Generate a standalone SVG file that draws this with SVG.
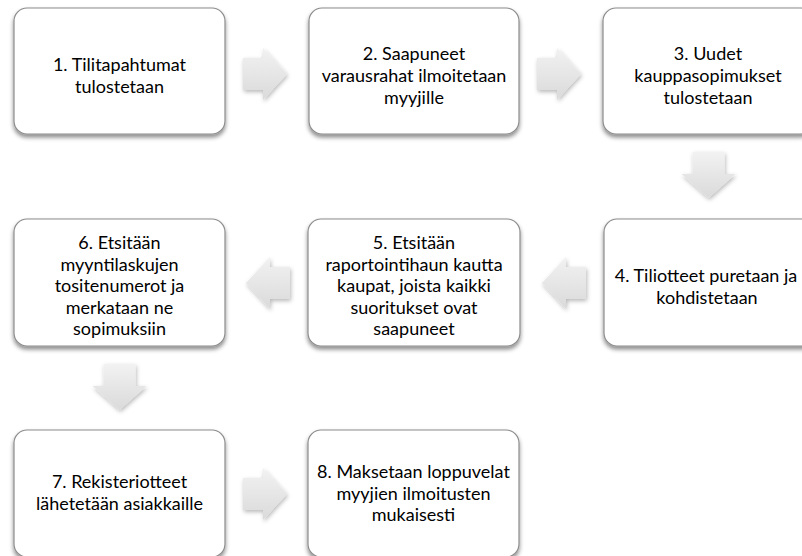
<svg xmlns="http://www.w3.org/2000/svg" width="802" height="556" viewBox="0 0 802 556">
<defs>
<filter id="sh" x="-10%" y="-10%" width="120%" height="130%">
<feDropShadow dx="0" dy="3" stdDeviation="2" flood-color="#000" flood-opacity="0.45"/>
</filter>
<filter id="ash" x="-20%" y="-20%" width="150%" height="150%">
<feDropShadow dx="1" dy="2" stdDeviation="2" flood-color="#000" flood-opacity="0.28"/>
</filter>
<linearGradient id="ag" x1="0" y1="0" x2="0" y2="1">
<stop offset="0" stop-color="#f2f2f2"/>
<stop offset="1" stop-color="#dadada"/>
</linearGradient>
</defs>
<style>
.box{fill:#fff;stroke:#8c8c8c;stroke-width:1.2;filter:url(#sh)}
.arr{fill:url(#ag);filter:url(#ash)}
text{font-family:Lato,"Liberation Sans",Arial,sans-serif;font-size:18px;fill:#000;text-anchor:middle}
</style>
<g id="connectors">
<path class="arr" d="M243,58 H263 V48 L287,74 L263,100 V90 H243 Z"/>
<path class="arr" d="M537,58 H557 V48 L581,74 L557,100 V90 H537 Z"/>
<path class="arr" d="M692.5,152 H724.5 V174 H735.5 L708.5,198 L681.5,174 H692.5 Z"/>
<path class="arr" d="M586,267 H566 V257 L542,283 L566,309 V299 H586 Z"/>
<path class="arr" d="M290,267 H270 V257 L246,283 L270,309 V299 H290 Z"/>
<path class="arr" d="M103.5,364 H135.5 V386 H146.5 L119.5,410 L92.5,386 H103.5 Z"/>
<path class="arr" d="M243,478 H263 V468 L287,494 L263,520 V510 H243 Z"/>
</g>
<g id="node1">
<rect class="box" x="14" y="8" width="211" height="126" rx="13"/>
<text x="119.5" y="70.7">1. Tilitapahtumat</text>
<text x="119.5" y="92.7">tulostetaan</text>
</g>
<g id="node2">
<rect class="box" x="309" y="8" width="210" height="126" rx="13"/>
<text x="414" y="59.7">2. Saapuneet</text>
<text x="414" y="81.7">varausrahat ilmoitetaan</text>
<text x="414" y="103.7">myyjille</text>
</g>
<g id="node3">
<rect class="box" x="603" y="8" width="211" height="126" rx="13"/>
<text x="708" y="59.7">3. Uudet</text>
<text x="708" y="81.7">kauppasopimukset</text>
<text x="708" y="103.7">tulostetaan</text>
</g>
<g id="node4">
<rect class="box" x="604" y="219" width="211" height="127" rx="13"/>
<text x="706" y="281.5">4. Tiliotteet puretaan ja</text>
<text x="707" y="303.5">kohdistetaan</text>
</g>
<g id="node5">
<rect class="box" x="308" y="219" width="212" height="127" rx="13"/>
<text x="414" y="249">5. Etsitään</text>
<text x="414" y="270.5">raportointihaun kautta</text>
<text x="414" y="292">kaupat, joista kaikki</text>
<text x="414" y="313.5">suoritukset ovat</text>
<text x="414" y="335">saapuneet</text>
</g>
<g id="node6">
<rect class="box" x="14" y="219" width="211" height="127" rx="13"/>
<text x="119.5" y="249">6. Etsitään</text>
<text x="119.5" y="270.5">myyntilaskujen</text>
<text x="119.5" y="292">tositenumerot ja</text>
<text x="119.5" y="313.5">merkataan ne</text>
<text x="119.5" y="335">sopimuksiin</text>
</g>
<g id="node7">
<rect class="box" x="14" y="430" width="211" height="127" rx="13"/>
<text x="119.5" y="488">7. Rekisteriotteet</text>
<text x="119.5" y="510">lähetetään asiakkaille</text>
</g>
<g id="node8">
<rect class="box" x="308" y="430" width="211" height="127" rx="13"/>
<text x="413.5" y="478">8. Maksetaan loppuvelat</text>
<text x="413.5" y="499.5">myyjien ilmoitusten</text>
<text x="413.5" y="521">mukaisesti</text>
</g>
</svg>
